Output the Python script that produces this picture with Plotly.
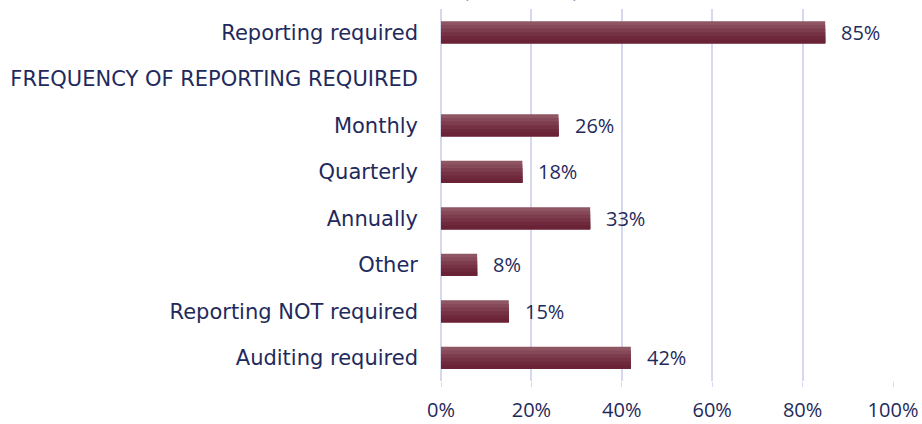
import plotly.graph_objects as go

categories = ["Reporting required", "FREQUENCY OF REPORTING REQUIRED", "Monthly", "Quarterly",
              "Annually", "Other", "Reporting NOT required", "Auditing required"]
values = [85, None, 26, 18, 33, 8, 15, 42]
tick_vals = [0, 20, 40, 60, 80, 100]
tick_text = ["0%", "20%", "40%", "60%", "80%", "100%"]

navy = "#1f2a5c"
label_font = "DejaVu Sans"
num_font = "Open Sans"

# vertical gradient emulated with overlapping bands (top lighter -> bottom darker)
band_colors = ["#8e5563", "#864959", "#7e3d4e", "#763245", "#6f293c", "#6a2336"]
bar_w = 0.47
n = len(band_colors)
fig = go.Figure()
for i, col in enumerate(band_colors):
    fig.add_trace(go.Bar(
        y=categories, x=values, orientation="h",
        marker=dict(color=col, line=dict(width=0)),
        width=bar_w - i * bar_w / n, offset=-bar_w / 2 + i * bar_w / n,
        hoverinfo="skip",
    ))

for c, v in zip(categories, values):
    if v is None:
        continue
    fig.add_annotation(x=v, y=c, text=f"{v}%", showarrow=False, xanchor="left",
                       xshift=14, font=dict(size=20, color=navy, family=num_font))

fig.add_annotation(x=(461 - 441) / 452, y=1.0, xref="paper", yref="paper", yanchor="bottom",
                   yshift=4, text="(                    )", showarrow=False,
                   font=dict(size=20, color=navy, family=num_font))

fig.update_layout(
    width=922, height=424,
    margin=dict(l=441, r=29, t=9, b=43),
    paper_bgcolor="white", plot_bgcolor="white",
    showlegend=False, barmode="overlay",
    font=dict(family=label_font, size=21, color=navy),
    xaxis=dict(range=[0, 100], tickvals=tick_vals, ticktext=tick_text, automargin=False,
               showgrid=True, gridcolor="#d5d8ee", gridwidth=1.5,
               zeroline=True, zerolinecolor="#d5d8ee", zerolinewidth=1.5,
               ticks="outside", ticklen=5, tickcolor="#d5d8ee", ticklabelstandoff=6,
               tickfont=dict(size=20, color=navy, family=num_font), fixedrange=True),
    yaxis=dict(categoryorder="array", categoryarray=categories, autorange="reversed",
               showgrid=False, ticklabelstandoff=22, automargin=False,
               tickfont=dict(size=21, color=navy, family=label_font), fixedrange=True),
)

fig.write_html("out.html", config={"displayModeBar": False},
               post_script="document.body.style.margin='0';document.body.style.overflow='hidden';")
